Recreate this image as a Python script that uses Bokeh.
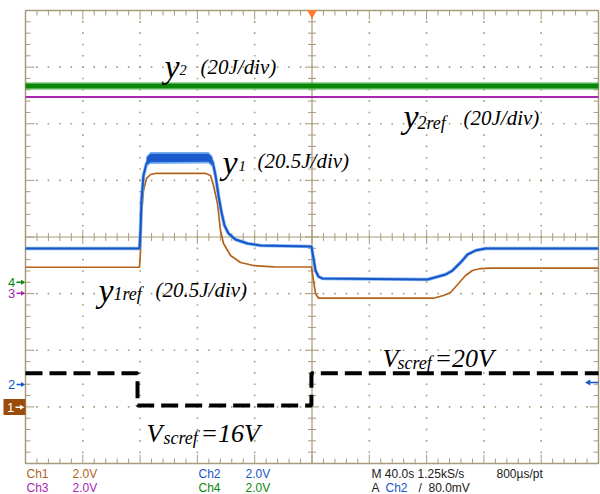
import numpy as np
from bokeh.plotting import figure
from bokeh.models import Range1d
from bokeh.core.properties import value
from bokeh.embed import file_html
from bokeh.resources import INLINE

# ---------------- data (graticule divisions: x 0..10, y -4..4, centre 0) ----------------
# Ch2 (blue)  : y1
ch2_t = [0, 1.99, 2.007, 2.024, 2.059, 2.112, 2.182, 3.194, 3.264, 3.316, 3.368, 3.421, 3.473,
         3.543, 3.665, 3.874, 4.101, 4.991, 5.026, 5.061, 5.113, 5.183, 7.016, 7.33, 7.452,
         7.592, 7.714, 7.853, 8.028, 10]
ch2_v = [-0.203, -0.203, 0.115, 0.645, 1.087, 1.299, 1.387, 1.387, 1.334, 1.087, 0.733, 0.433,
         0.203, 0.062, -0.044, -0.115, -0.150, -0.168, -0.380, -0.592, -0.698, -0.733, -0.751,
         -0.663, -0.592, -0.451, -0.309, -0.239, -0.203, -0.203]
# noisy plateau of Ch2
ch2_band_t = [2.112, 2.182, 3.194, 3.264]
ch2_band_hi = [1.40, 1.47, 1.47, 1.40]
ch2_band_lo = [1.27, 1.32, 1.33, 1.26]
# Ch1 (orange) : y1ref
ch1_t = [0, 1.99, 2.007, 2.024, 2.059, 2.112, 2.182, 2.269, 3.141, 3.229, 3.281, 3.351, 3.403,
         3.456, 3.578, 3.752, 3.979, 4.328, 4.991, 5.026, 5.061, 5.113, 7.12, 7.295, 7.417,
         7.557, 7.679, 7.801, 7.941, 8.115, 10]
ch1_v = [-0.534, -0.534, -0.239, 0.380, 0.822, 1.034, 1.104, 1.122, 1.122, 1.087, 0.910, 0.592,
         0.115, -0.115, -0.327, -0.451, -0.504, -0.527, -0.530, -0.769, -0.998, -1.081, -1.081,
         -1.034, -0.981, -0.822, -0.680, -0.592, -0.557, -0.548, -0.548]
# Ch4 (green) : y2, Ch3 (magenta) : y2ref
ch4_t = [0, 10]
ch4_v = [2.668, 2.668]
ch3_t = [0, 10]
ch3_v = [2.473, 2.473]
# Vscref (black dashed)
vs_t = [0, 1.955, 1.955, 4.99, 4.99, 10]
vs_v = [-2.406, -2.406, -2.977, -2.977, -2.406, -2.406]
# channel ground markers on the left
mark_names = ["4", "3", "2"]
mark_levels = [-0.800, -0.993, -2.606]
ch1_mark_level = -3.007

# ---------------- colours ----------------
GRAT = "#a89b7b"
BLUE = "#1656c8"
LBLUE = "#6aa6f0"
ORANGE = "#b4631c"
BOXBROWN = "#9c4c0a"
GREEN = "#0a870a"
LGREEN = "#5cc05c"
MAGENTA = "#a826b0"
mark_colors = [GREEN, MAGENTA, BLUE]

# ---------------- layout ----------------
W, H = 600, 494
L, R, T, B = 25, 598, 10, 463
SX = (R - L) / 10.0
SY = (B - T) / 8.0


def rx(px):  # picture pixel -> divisions
    return (px - L) / SX


def ry(py):
    return ((T + B) / 2.0 - py) / SY


p = figure(width=W, height=H,
           x_range=Range1d(-L / SX, (W - L) / SX),
           y_range=Range1d(-4 - (H - B) / SY, 4 + T / SY),
           output_backend="svg", toolbar_location=None,
           x_axis_location=None, y_axis_location=None,
           min_border=0, background_fill_color="white",
           border_fill_color="white", outline_line_color=None)
p.grid.visible = False

# ---------------- graticule ----------------
mx = np.round(np.arange(0, 10.0001, 0.2), 4)
my = np.round(np.arange(-4, 4.0001, 0.2), 4)
majx = np.isclose(mx, np.round(mx))
majy = np.isclose(my, np.round(my))

dx, dy = [], []
for xi in range(1, 10):
    if xi == 5:
        continue
    for yv in my[1:-1]:
        dx.append(xi); dy.append(yv)
for yi in range(-3, 4):
    if yi == 0:
        continue
    for xv in mx[1:-1]:
        dx.append(xv); dy.append(yi)
p.scatter(dx, dy, marker="square", size=1.6, color=GRAT, line_width=0)

x0s, y0s, x1s, y1s = [], [], [], []
for xv, mj in zip(mx[1:-1], majx[1:-1]):
    ln = 9 if mj else 5
    x0s += [xv, xv]; x1s += [xv, xv]
    y0s += [4, -4]; y1s += [4 - ln / SY, -4 + ln / SY]
    c = 7 if mj else 4
    x0s.append(xv); x1s.append(xv); y0s.append(-c / SY); y1s.append(c / SY)
for yv, mj in zip(my[1:-1], majy[1:-1]):
    ln = 9 if mj else 5
    y0s += [yv, yv]; y1s += [yv, yv]
    x0s += [0, 10]; x1s += [ln / SX, 10 - ln / SX]
    c = 7 if mj else 4
    y0s.append(yv); y1s.append(yv); x0s.append(5 - c / SX); x1s.append(5 + c / SX)
p.segment(x0s, y0s, x1s, y1s, line_color=GRAT, line_width=1)

p.segment([0, 5], [0, -4], [10, 5], [0, 4], line_color=GRAT, line_width=1.2)
p.quad(left=[0], right=[10], bottom=[-4], top=[4], fill_color=None,
       line_color=GRAT, line_width=1.5)

# ---------------- traces ----------------
p.line(ch4_t, ch4_v, line_color=LGREEN, line_width=8, line_alpha=0.6)
p.line(ch4_t, ch4_v, line_color=GREEN, line_width=5)
p.line(ch3_t, ch3_v, line_color=MAGENTA, line_width=2)

p.line(ch1_t, ch1_v, line_color=ORANGE, line_width=1.7)

p.line(ch2_t, ch2_v, line_color=LBLUE, line_width=3.5, line_alpha=0.8)
p.line(ch2_t, ch2_v, line_color=BLUE, line_width=2)
p.varea(x=ch2_band_t, y1=[v - 0.03 for v in ch2_band_lo], y2=[v + 0.03 for v in ch2_band_hi],
        fill_color=LBLUE, fill_alpha=0.9)
p.varea(x=ch2_band_t, y1=ch2_band_lo, y2=ch2_band_hi, fill_color=BLUE, fill_alpha=0.95)

p.line(vs_t, vs_v, line_color="black", line_width=4, line_dash="17 7", line_cap="butt")

p.scatter([5], [4 - 2.5 / SY], marker="inverted_triangle", size=10, color="#ff7a2a", line_width=0)

# ---------------- channel markers ----------------
for name, lvl, col in zip(mark_names, mark_levels, mark_colors):
    p.text([rx(11)], [lvl], text=[name], text_font=value("Liberation Sans"),
           text_font_size="13px", text_color=col, text_align="center", text_baseline="middle")
    p.segment([rx(16)], [lvl], [rx(22)], [lvl], line_color=col, line_width=1.5)
    p.scatter([rx(22)], [lvl], marker="triangle", angle=-np.pi / 2, size=5, color=col, line_width=0)

p.quad(left=[rx(3)], right=[0], bottom=[ry(414.5)], top=[ry(398.5)], fill_color=BOXBROWN, line_color=None)
p.text([rx(10)], [ch1_mark_level], text=["1"], text_font=value("Liberation Sans"),
       text_font_size="13px", text_color="white", text_align="center", text_baseline="middle")
p.segment([rx(15)], [ch1_mark_level], [rx(21)], [ch1_mark_level], line_color="white", line_width=1.5)
p.scatter([rx(21)], [ch1_mark_level], marker="triangle", angle=-np.pi / 2, size=5, color="white", line_width=0)

p.segment([rx(588)], [ry(382)], [10], [ry(382)], line_color=BLUE, line_width=1.5)
p.scatter([rx(588)], [ry(382)], marker="triangle", angle=np.pi / 2, size=6, color=BLUE, line_width=0)

# ---------------- annotations ----------------
def serif(txt, px, py, size):
    p.text([rx(px)], [ry(py)], text=[txt], text_font=value("Liberation Serif"),
           text_font_style="italic", text_font_size=f"{size}px", text_color="black",
           text_align="left", text_baseline="alphabetic")


serif("y", 164, 66, 34); serif("2", 179, 69.5, 14); serif("(20J/div)", 200, 66, 21)
serif("y", 403, 116, 34); serif("2ref", 417, 122, 18); serif("(20J/div)", 463, 117, 21)
serif("y", 222, 162, 34); serif("1", 238, 165, 15); serif("(20.5J/div)", 257, 160, 21)
serif("y", 98, 290, 34); serif("1ref", 113, 293, 18); serif("(20.5J/div)", 155, 289, 21)
serif("V", 146, 433, 26); serif("scref", 163, 437, 18); serif("=16V", 200, 433, 26)
serif("V", 382, 358, 26); serif("scref", 397, 362, 18); serif("=20V", 434, 358, 26)

# ---------------- status text ----------------
def status(txt, px, py, col):
    p.text([rx(px)], [ry(py)], text=[txt], text_font=value("Liberation Sans"),
           text_font_size="12px", text_color=col, text_align="left", text_baseline="middle")


r1, r2 = 473, 487.5
status("Ch1", 26, r1, ORANGE); status("2.0V", 72, r1, ORANGE)
status("Ch2", 198, r1, BLUE); status("2.0V", 245, r1, BLUE)
status("M 40.0s 1.25kS/s", 371, r1, "#202020"); status("800µs/pt", 496, r1, "#202020")
status("Ch3", 26, r2, MAGENTA); status("2.0V", 72, r2, MAGENTA)
status("Ch4", 198, r2, GREEN); status("2.0V", 245, r2, GREEN)
status("A", 371, r2, "#202020"); status("Ch2", 385, r2, BLUE)
status("/", 418, r2, "#202020"); status("80.0mV", 428, r2, "#202020")

open("out.html", "w").write(file_html(p, INLINE))
